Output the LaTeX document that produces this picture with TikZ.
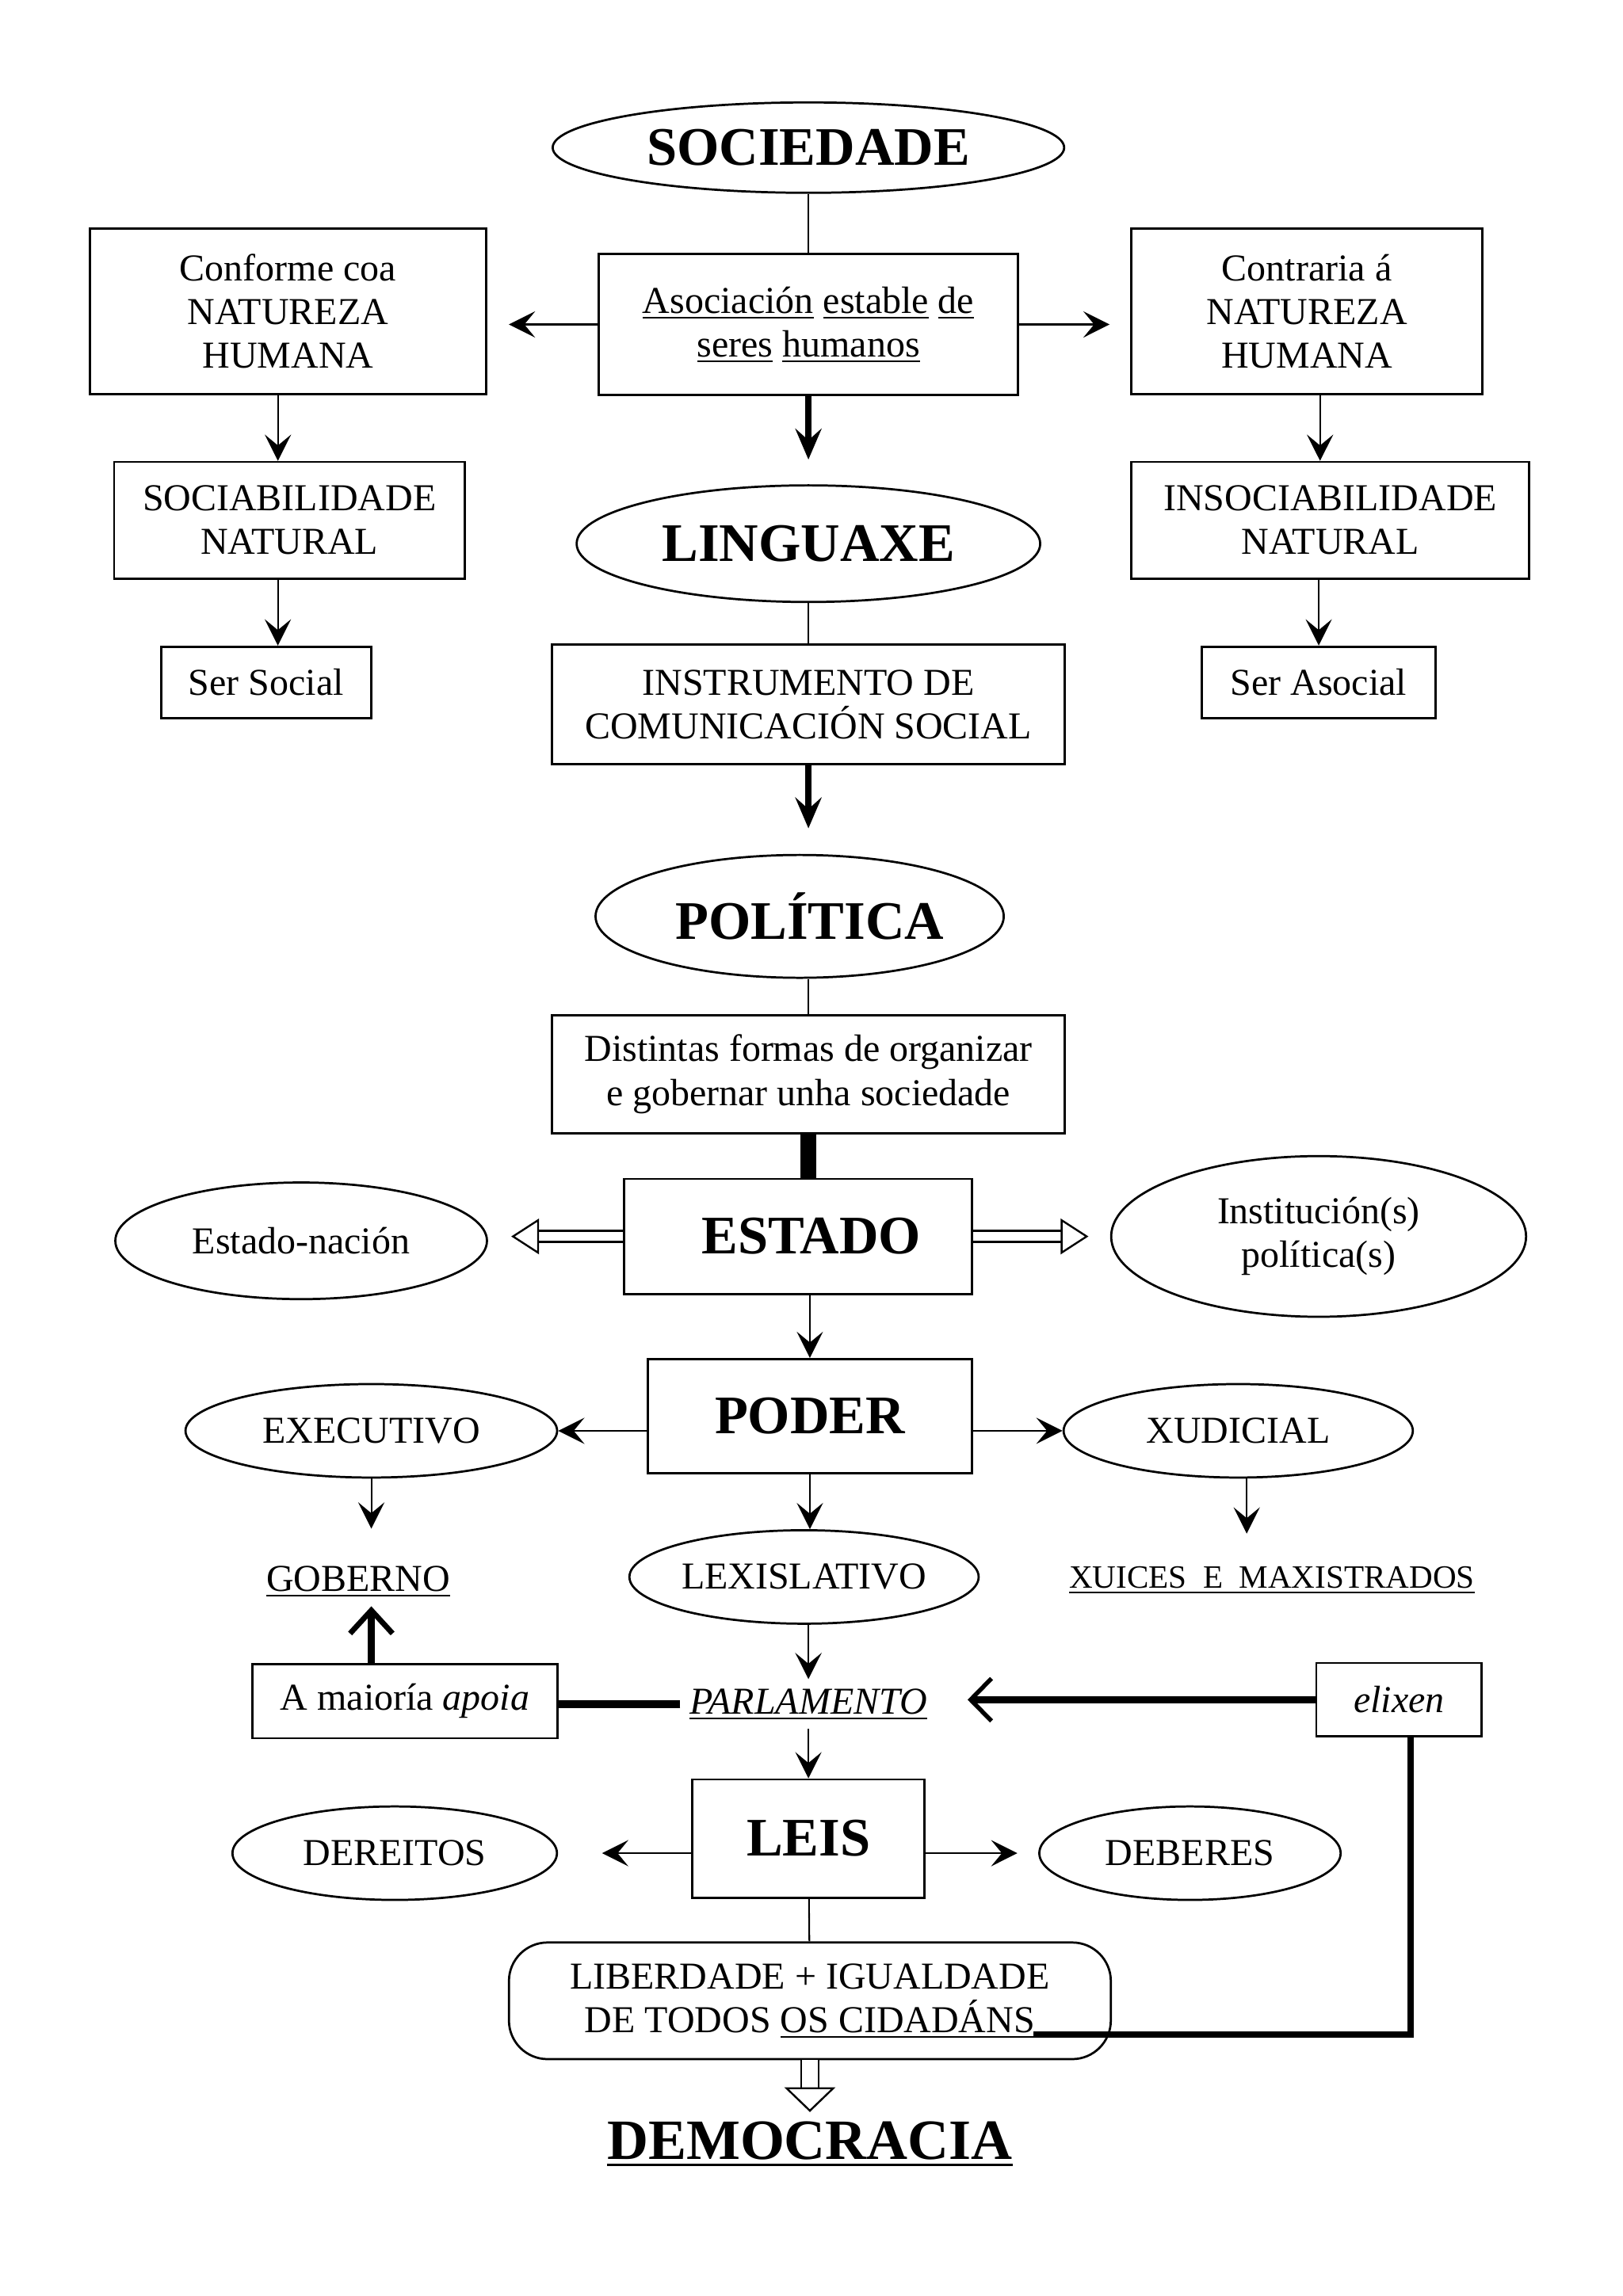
\documentclass[tikz,border=0pt]{standalone}
\usepackage{fontspec}
\setmainfont{Liberation Serif}
\usetikzlibrary{arrows.meta,shapes.geometric}
\newcommand{\subl}[2][0.6pt]{\leavevmode\vtop{\hbox{#2}\kern1.3pt\hrule height #1}}
\begin{document}
\begin{tikzpicture}[x=0.018919cm, y=-0.018919cm,
  font=\fontsize{14}{16.1}\selectfont,
  caixa/.style={draw, line width=0.8pt, align=center, inner sep=0pt},
  elipse/.style={draw, ellipse, line width=0.8pt, align=center, inner sep=0pt},
  titulo/.style={font=\fontsize{20}{24}\selectfont\bfseries},
  fino/.style={line width=0.6pt},
  frecha/.style={line width=0.6pt, -{Stealth[length=0.34cm, width=0.34cm, inset=0.14cm]}},
  grosa/.style={line width=2.5pt, -{Stealth[length=0.4cm, width=0.34cm, inset=0.15cm]}},
  oca/.style={double, line width=0.7pt, double distance=0.12cm,
    -{Triangle[open, fill=white, length=0.36cm, width=0.46cm, line width=0.7pt]}},
  ocagrande/.style={double, line width=0.7pt, double distance=0.2cm,
    -{Triangle[open, fill=white, length=0.32cm, width=0.66cm, line width=0.7pt]}}]
\useasboundingbox (0,0) rectangle (1110,1571);

\node[elipse, titulo, minimum width=6.62cm, minimum height=1.17cm] (sociedade) at (553,101) {SOCIEDADE};
\node[caixa, minimum width=5.43cm, minimum height=1.82cm] (asociacion) at (553,222)
  {\subl{Asociación} \subl{estable} \subl{de}\\ \subl{seres} \subl{humanos}};
\node[caixa, minimum width=5.13cm, minimum height=2.14cm] (conforme) at (197,213) {Conforme coa\\NATUREZA\\HUMANA};
\node[caixa, minimum width=4.54cm, minimum height=2.14cm] (contraria) at (894,213) {Contraria á\\NATUREZA\\HUMANA};
\node[caixa, minimum width=4.54cm, minimum height=1.51cm] (sociab) at (198,356) {SOCIABILIDADE\\NATURAL};
\node[caixa, minimum width=5.15cm, minimum height=1.51cm] (insociab) at (910,356) {INSOCIABILIDADE\\NATURAL};
\node[caixa, minimum width=2.72cm, minimum height=0.93cm] (social) at (182,467) {Ser Social};
\node[caixa, minimum width=3.03cm, minimum height=0.93cm] (asocial) at (902,467) {Ser Asocial};

\node[elipse, titulo, minimum width=6.0cm, minimum height=1.51cm] (linguaxe) at (553,372) {LINGUAXE};
\node[caixa, minimum width=6.64cm, minimum height=1.55cm] (instrumento) at (553,482) {INSTRUMENTO DE\\COMUNICACIÓN SOCIAL};
\node[elipse, titulo, minimum width=5.11cm, minimum height=1.59cm] (politica) at (547,627) {\hspace*{0.26cm}POLÍTICA};
\node[caixa, minimum width=6.64cm, minimum height=1.53cm] (distintas) at (553,735) {Distintas formas de organizar\\e gobernar unha sociedade};

\node[caixa, titulo, minimum width=4.5cm, minimum height=1.49cm] (estado) at (546,846) {\hspace*{0.34cm}ESTADO};
\node[elipse, minimum width=4.81cm, minimum height=1.51cm] (nacion) at (206,849) {Estado-nación};
\node[elipse, minimum width=5.37cm, minimum height=2.08cm] (institucion) at (902,846) {Institución(s)\\política(s)};

\node[caixa, titulo, minimum width=4.2cm, minimum height=1.48cm] (poder) at (554,969) {PODER};
\node[elipse, minimum width=4.81cm, minimum height=1.21cm] (executivo) at (254,979) {EXECUTIVO};
\node[elipse, minimum width=4.52cm, minimum height=1.21cm] (xudicial) at (847,979) {XUDICIAL};
\node (goberno) at (245,1082) {\subl{GOBERNO}};
\node[font=\fontsize{12}{14}\selectfont] (xuices) at (870,1081) {\subl{XUICES\ \ E\ \ MAXISTRADOS}};
\node[elipse, minimum width=4.52cm, minimum height=1.21cm] (lexislativo) at (550,1079) {LEXISLATIVO};

\node (parlamento) at (553,1166) {\subl{\textit{PARLAMENTO}}};
\node[caixa, minimum width=3.95cm, minimum height=0.96cm] (maioria) at (277,1164) {A maioría \textit{apoia}};
\node[caixa, minimum width=2.14cm, minimum height=0.95cm] (elixen) at (957,1163) {\textit{elixen}};

\node[caixa, titulo, minimum width=3.01cm, minimum height=1.53cm] (leis) at (553,1258) {LEIS};
\node[elipse, minimum width=4.2cm, minimum height=1.21cm] (dereitos) at (270,1268) {DEREITOS};
\node[elipse, minimum width=3.9cm, minimum height=1.21cm] (deberes) at (814,1268) {DEBERES};
\node[caixa, rounded corners=0.5cm, minimum width=7.79cm, minimum height=1.51cm] (liberdade) at (554,1369)
  {LIBERDADE + IGUALDADE\\DE TODOS \subl{OS CIDADÁNS}};
\node[font=\fontsize{21}{25}\selectfont\bfseries] (democracia) at (554,1467) {\subl[1.1pt]{DEMOCRACIA}};
\coordinate (cidadans) at (707,1392);

\draw[fino] (sociedade) -- (asociacion);
\draw[frecha, shorten >=0.28cm] (asociacion) -- (asociacion -| conforme.east);
\draw[frecha, shorten >=0.27cm] (asociacion) -- (asociacion -| contraria.west);
\draw[frecha] ([xshift=-0.13cm]conforme.south) -- ([xshift=-0.13cm]conforme.south |- sociab.north);
\draw[frecha] ([xshift=-0.15cm]sociab.south) -- ([xshift=-0.15cm]sociab.south |- social.north);
\draw[frecha] ([xshift=0.17cm]contraria.south) -- ([xshift=0.17cm]contraria.south |- insociab.north);
\draw[frecha] ([xshift=-0.15cm]insociab.south) -- ([xshift=-0.15cm]insociab.south |- asocial.north);
\draw[grosa, shorten >=0.32cm] (asociacion) -- (linguaxe);
\draw[fino] (linguaxe) -- (instrumento);
\draw[grosa, shorten >=0.33cm] (instrumento.south) -- (instrumento.south |- politica.north);
\draw[fino] (distintas.north |- politica.south) -- (distintas.north);
\draw[line width=5.8pt] (distintas.south) -- (distintas.south |- estado.north);

\draw[oca, shorten >=0.3cm] (estado) -- (estado -| nacion.east);
\draw[oca, shorten >=0.28cm] (estado) -- (estado -| institucion.west);
\draw[frecha] (poder.north |- estado.south) -- (poder.north);

\draw[frecha] (poder.west |- executivo) -- (executivo);
\draw[frecha] (poder.east |- xudicial) -- (xudicial);
\draw[frecha, shorten >=0.36cm] (executivo.south) -- (executivo.south |- goberno.north);
\draw[frecha, shorten >=0.3cm] ([xshift=0.11cm]xudicial.south) -- ([xshift=0.11cm]xudicial.south |- xuices.north);
\draw[frecha] (poder.south) -- (poder.south |- lexislativo.north);
\draw[frecha] (parlamento.north |- lexislativo.south) -- (parlamento.north);

\draw[line width=3pt] (parlamento) -- (parlamento -| maioria.east);
\draw[line width=2.8pt, -{Straight Barb[length=0.3cm, width=0.55cm, line width=2pt]}]
  (maioria.north -| executivo.south) -- (goberno.south -| executivo.south);
\draw[line width=2.7pt, shorten >=0.4cm, -{Straight Barb[length=0.27cm, width=0.55cm, line width=1.6pt]}]
  (elixen) -- (elixen -| parlamento.east);
\draw[line width=2.4pt] ([xshift=0.15cm]elixen.south) |- (cidadans);

\draw[frecha] (parlamento) -- (leis);
\draw[frecha, shorten >=0.57cm] (leis.west |- dereitos) -- (dereitos);
\draw[frecha, shorten >=0.27cm] (leis.east |- deberes) -- (deberes);
\draw[fino] (leis) -- (liberdade);
\draw[ocagrande] (liberdade) -- (democracia);

\end{tikzpicture}
\end{document}
